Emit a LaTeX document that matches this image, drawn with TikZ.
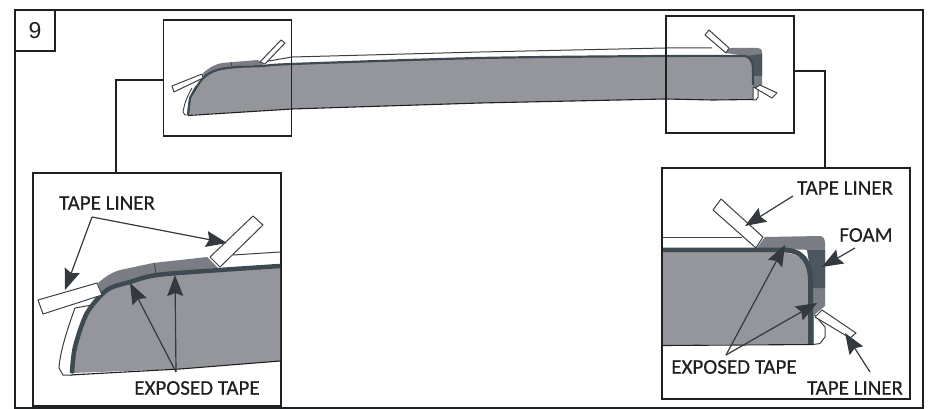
\documentclass[tikz,border=0pt]{standalone}
\usepackage{fontspec}
\newfontfamily\labelfont[FakeBold=0.35]{Carlito}
\newfontfamily\stepfont{Liberation Sans}
\usetikzlibrary{arrows.meta}
\tikzset{
  framebox/.style={draw=frameInk,line width=1.8pt,inner sep=0pt},
  wirerun/.style={draw=frameInk,line width=1.5pt},
  callout/.style={draw=calloutInk,line width=1.2pt,-{Stealth[length=21pt,width=16pt,inset=3pt]}},
  partlabel/.style={font=\labelfont\fontsize{21}{21}\selectfont,text=frameInk,inner sep=0pt},
  linerstrip/.style={fill=white,draw=edgeInk,line width=1pt,line join=round},
  edgeline/.style={draw=edgeInk,line width=1pt}
}
\begin{document}
\begin{tikzpicture}[x=1pt,y=-1pt]
\definecolor{frameInk}{HTML}{1E2022}
\definecolor{calloutInk}{HTML}{33393F}
\definecolor{edgeInk}{HTML}{3C4044}
\definecolor{bodyGrey}{HTML}{94969C}
\definecolor{bandDark}{HTML}{3E4A52}
\definecolor{tapeGrey}{HTML}{7A7E84}
\definecolor{foamDark}{HTML}{4C565F}
\useasboundingbox (0,0) rectangle (928,409);
\fill[white] (0,0) rectangle (928,409);
% long view
\fill[bodyGrey] (188,115) -- plot[smooth] coordinates {(190,98) (203,78) (217,70) (237,67) (263,66)} -- (292,64) -- (480,58) -- (665,56) -- (745,57) .. controls (750,58) and (753,62) .. (753,68) -- (753,99) -- (713,100) -- (665,99) -- (480,103) -- (292,109) -- cycle;
\draw[frameInk,line width=1.1pt] (188,115.5) -- (292,109) -- (480,103) -- (665,99) -- (713,100) -- (753,99.5);
\draw[edgeline] (263,62) -- (292,57) -- (480,52) -- (665,48) -- (712,48);
\draw[linerstrip,line width=0.9pt] (192,88) .. controls (186,98) and (184,106) .. (183,112) -- (185,115) -- (188,115) .. controls (188,103) and (190,96) .. (196,86);
\fill[tapeGrey] (203,73) .. controls (210,67) and (216,64) .. (222,63) -- (258,60) -- (264,65) -- (237,66) .. controls (222,67) and (212,72) .. (204,80) -- cycle;
\draw[edgeInk,line width=0.6pt] (231,62) -- (232,67);
\fill[tapeGrey] (726,53) -- (730,48) -- (758,48) .. controls (761,48) and (762,50) .. (762,52) -- (762,86) -- (753,88) -- (753,57) -- cycle;
\fill[foamDark] (746,56) -- (762,54) -- (762,76) -- (753,76) -- (753,62) -- cycle;
\draw[bandDark,line width=2.2pt] (188,115) -- plot[smooth] coordinates {(190,98) (203,78) (217,70) (237,67) (263,66) (292,64) (480,58) (665,56) (745,56)} .. controls (750,57) and (753,62) .. (753,68) -- (753,85);
\draw[linerstrip] (753,87) -- (758,88) -- (758,97) -- (756,100) -- (753,100) -- cycle;
\draw[linerstrip] (172,86) -- (174,92) -- (203,78) -- (202,74) -- cycle;
\draw[linerstrip] (260,62) -- (265,64) -- (285,43) -- (281,40) -- cycle;
\draw[linerstrip] (705,35) -- (709,30) -- (729,48) -- (726,53) -- cycle;
\draw[linerstrip] (755,88) -- (760,85) -- (777,93) -- (772,98) -- cycle;
% frames
\node[framebox,minimum width=908pt,minimum height=398pt] (sheetFrame) at (469,209) {};
\node[framebox,minimum width=40pt,minimum height=41pt,font=\stepfont\fontsize{23}{23}\selectfont,text=frameInk] (stepNo) at (35,30.5) {9};
\node[framebox,minimum width=128pt,minimum height=116pt] (detailLeft) at (227.5,78) {};
\node[framebox,minimum width=128pt,minimum height=117pt] (detailRight) at (730,74.5) {};
\node[framebox,minimum width=248pt,minimum height=233pt] (insetLeft) at (157,289.5) {};
\node[framebox,minimum width=248pt,minimum height=231pt] (insetRight) at (786,283.5) {};
\coordinate (elbowLeft) at (116,80);
\coordinate (elbowRight) at (825,71);
\draw[wirerun] (detailLeft.west |- elbowLeft) -- (elbowLeft) -- (elbowLeft |- insetLeft.north);
\draw[wirerun] (detailRight.east |- elbowRight) -- (elbowRight) -- (elbowRight |- insetRight.north);
% left inset
\fill[bodyGrey] (72,373) -- plot[smooth] coordinates {(75,347) (87,313) (107,290) (130,282) (157,275) (220,270) (280,266)} -- (280,361) -- (180,369) -- cycle;
\draw[edgeline] (233,255) -- (280,252);
\draw[frameInk,line width=1.1pt] (70,375) -- (180,369) -- (280,361);
\draw[edgeline,fill=white] (75,308) .. controls (67,330) and (60,352) .. (59,368) -- (63,375) -- (72,375) .. controls (72,350) and (80,325) .. (92,305) -- cycle;
\fill[tapeGrey] (98,283) .. controls (106,276) and (113,272) .. (120,270) -- (153,263) -- (207,257) -- (218,268) -- (157,274) -- (130,281) .. controls (118,284) and (110,290) .. (102,295) -- cycle;
\draw[edgeInk,line width=0.8pt] (154.5,263) -- (156,275);
\draw[bandDark,line width=4.5pt] plot[smooth] coordinates {(72,373) (75,347) (87,313) (107,290) (130,282) (157,275) (220,270) (280,266)};
\draw[linerstrip] (38,300) -- (43,314) -- (102,295) -- (97,283) -- cycle;
\draw[linerstrip] (210,257) -- (220,267) -- (263,225) -- (253,216) -- cycle;
\node[partlabel] (linerLabelLeft) at (107,203) {TAPE LINER};
\node[partlabel] (exposedLabelLeft) at (197,388) {EXPOSED TAPE};
\coordinate (linerForkLeft) at (92,217);
\coordinate (linerTipA) at (65,290);
\coordinate (linerTipB) at (227,243);
\coordinate (exposedForkLeft) at (176,372);
\coordinate (exposedTipA) at (130,283);
\coordinate (exposedTipB) at (175,275);
\draw[callout] (linerForkLeft) -- (linerTipA);
\draw[callout] (linerForkLeft) -- (linerTipB);
\draw[callout] (exposedForkLeft) -- (exposedTipA);
\draw[callout] (exposedForkLeft) -- (exposedTipB);
% right inset
\fill[bodyGrey] (663,253) -- (783,253) .. controls (800,253) and (809,262) .. (809,280) -- (809,344) -- (663,345) -- cycle;
\draw[edgeline] (663,237) -- (742,237);
\draw[frameInk,line width=1.1pt] (663,345.5) -- (813,344.5);
\draw[edgeline,fill=white] (813,313) -- (825,327) -- (825,337) -- (820,343.5) -- (813,344.5) -- cycle;
\fill[tapeGrey] (757,248) -- (765,237) -- (820,236) .. controls (823,236) and (825,239) .. (825,243) -- (825,306) -- (813,316) -- (812,250) -- cycle;
\fill[foamDark] (807,250) -- (825,250) -- (825,288) -- (813,288) -- cycle;
\draw[bandDark,line width=5pt] (663,250) -- (783,250) .. controls (803,250) and (810.5,262) .. (810.5,282) -- (810.5,344);
\draw[linerstrip] (713,210) -- (721,199) -- (763,237) -- (756,248) -- cycle;
\draw[linerstrip] (815,317) -- (822,310) -- (856,333) -- (850,338) -- cycle;
\node[partlabel] (linerLabelTop) at (845,188) {TAPE LINER};
\node[partlabel] (foamLabel) at (866,235) {FOAM};
\node[partlabel] (exposedLabelRight) at (734,367) {EXPOSED TAPE};
\node[partlabel] (linerLabelLow) at (855,388) {TAPE LINER};
\coordinate (linerTailTop) at (793,196);
\coordinate (linerTipTop) at (745,226);
\coordinate (foamTail) at (855,248);
\coordinate (foamTip) at (822,267);
\coordinate (exposedForkRight) at (726,355);
\coordinate (exposedTipC) at (785,245);
\coordinate (exposedTipD) at (817,303);
\coordinate (linerTailLow) at (870,372);
\coordinate (linerTipLow) at (845,333);
\draw[callout] (linerTailTop) -- (linerTipTop);
\draw[callout] (foamTail) -- (foamTip);
\draw[callout] (exposedForkRight) -- (exposedTipC);
\draw[callout] (exposedForkRight) -- (exposedTipD);
\draw[callout] (linerTailLow) -- (linerTipLow);
\end{tikzpicture}
\end{document}
